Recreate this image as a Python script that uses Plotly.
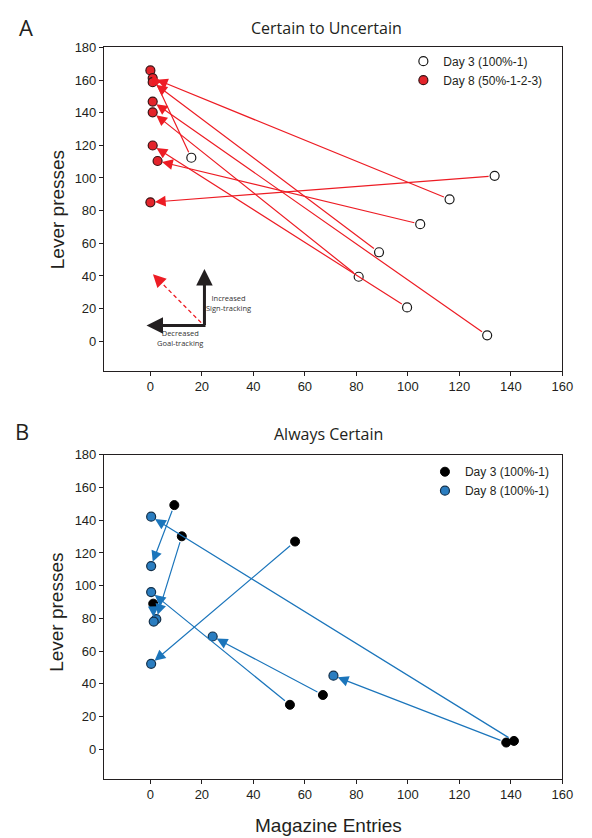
import plotly.graph_objects as go

# ---------------- data ----------------
# Panel A: Certain to Uncertain (each index = one subject, Day 3 -> Day 8)
A_day3_x = [15.9, 133.7, 116.2, 104.8, 88.8, 80.9, 99.7, 130.8]
A_day3_y = [112.4, 101.3, 86.9, 71.7, 54.5, 39.5, 20.7, 3.6]
A_day8_x = [0.0, 0.0, 0.9, 2.8, 0.9, 0.9, 0.9, 0.9]
A_day8_y = [165.9, 85.1, 161.2, 110.4, 158.7, 140.2, 119.9, 146.8]

# Panel B: Always Certain
B_day3_x = [9.3, 12.2, 1.1, 56.2, 54.2, 67.0, 138.2, 141.2]
B_day3_y = [149.3, 130.2, 89.0, 127.0, 27.1, 33.1, 4.0, 5.0]
B_day8_x = [0.3, 2.3, 1.3, 0.3, 0.3, 24.2, 71.1, 0.3]
B_day8_y = [112.0, 79.5, 78.0, 52.2, 96.1, 68.9, 44.9, 142.2]

x_ticks = [0, 20, 40, 60, 80, 100, 120, 140, 160]
y_ticks = [0, 20, 40, 60, 80, 100, 120, 140, 160, 180]

W, H = 592, 838
RED_LINE = '#ed1c24'
RED_FILL = '#e3242b'
BLUE_LINE = '#1b75bb'
BLUE_FILL = '#2a7dc0'
INK = '#231f20'
TICKFONT = dict(family='Liberation Sans, Arial, sans-serif', size=13, color=INK)
HUMANIST = 'Open Sans, Noto Sans, sans-serif'
ARIAL = 'Liberation Sans, Arial, sans-serif'


def px_x(p):
    return p / W


def px_y(p):
    return 1 - p / H


fig = go.Figure()

fig.add_trace(go.Scatter(x=A_day3_x, y=A_day3_y, mode='markers', name='Day 3 (100%-1)',
                         marker=dict(size=9, color='white', line=dict(color='#1a1a1a', width=1.2)),
                         xaxis='x', yaxis='y', legend='legend'))
fig.add_trace(go.Scatter(x=A_day8_x, y=A_day8_y, mode='markers', name='Day 8 (50%-1-2-3)',
                         marker=dict(size=9, color=RED_FILL, line=dict(color='#3a1214', width=1.2)),
                         xaxis='x', yaxis='y', legend='legend'))
fig.add_trace(go.Scatter(x=B_day3_x, y=B_day3_y, mode='markers', name='Day 3 (100%-1)',
                         marker=dict(size=9, color='black', line=dict(color='black', width=1)),
                         xaxis='x2', yaxis='y2', legend='legend2'))
fig.add_trace(go.Scatter(x=B_day8_x, y=B_day8_y, mode='markers', name='Day 8 (100%-1)',
                         marker=dict(size=9, color=BLUE_FILL, line=dict(color='#13304a', width=1.2)),
                         xaxis='x2', yaxis='y2', legend='legend2'))

# dashed red arrow of the inset key (panel A)
fig.add_trace(go.Scatter(x=[19.7, 3.8], y=[11.4, 36.6], mode='lines',
                         line=dict(color=RED_LINE, width=1.3, dash='4px,3px'),
                         xaxis='x', yaxis='y', showlegend=False, hoverinfo='skip'))


def add_arrows(x3, y3, x8, y8, xr, yr, color):
    for a, b, c, d in zip(x3, y3, x8, y8):
        fig.add_annotation(x=c, y=d, ax=a, ay=b, xref=xr, yref=yr, axref=xr, ayref=yr,
                           showarrow=True, arrowhead=2, arrowsize=1.8, arrowwidth=1.2,
                           arrowcolor=color, standoff=4.5, startstandoff=4.5, text='')


add_arrows(A_day3_x, A_day3_y, A_day8_x, A_day8_y, 'x', 'y', RED_LINE)
add_arrows(B_day3_x, B_day3_y, B_day8_x, B_day8_y, 'x2', 'y2', BLUE_LINE)

# inset key arrows
fig.add_annotation(x=21, y=44.3, ax=21, ay=9.0, xref='x', yref='y', axref='x', ayref='y',
                   showarrow=True, arrowhead=2, arrowsize=1.1, arrowwidth=3, arrowcolor=INK, text='')
fig.add_annotation(x=-1.5, y=9.7, ax=22, ay=9.7, xref='x', yref='y', axref='x', ayref='y',
                   showarrow=True, arrowhead=2, arrowsize=1.1, arrowwidth=3, arrowcolor=INK, text='')
fig.add_annotation(x=1.0, y=41.1, ax=3.8, ay=36.6, xref='x', yref='y', axref='x', ayref='y',
                   showarrow=True, arrowhead=2, arrowsize=2.0, arrowwidth=1.3, arrowcolor=RED_LINE, text='')
fig.add_annotation(x=30.3, y=23.5, xref='x', yref='y', showarrow=False,
                   text='Increased<br>Sign-tracking', align='center',
                   xanchor='center', yanchor='middle',
                   font=dict(family=HUMANIST, size=7.5, color='#333'))
fig.add_annotation(x=11.4, y=2.0, xref='x', yref='y', showarrow=False,
                   text='Decreased<br>Goal-tracking', align='center',
                   xanchor='center', yanchor='middle',
                   font=dict(family=HUMANIST, size=7.5, color='#333'))


def paper_text(x, y, text, size, family=HUMANIST, angle=0):
    fig.add_annotation(x=px_x(x), y=px_y(y), xref='paper', yref='paper', showarrow=False,
                       text=text, textangle=angle, xanchor='center', yanchor='middle',
                       font=dict(family=family, size=size, color=INK))


paper_text(333, 21, 'Certain to Uncertain', 16)
paper_text(335, 431, 'Always Certain', 16)
paper_text(26, 20, 'A', 22)
paper_text(22, 428, 'B', 22)
paper_text(58, 204, 'Lever presses', 19, ARIAL, -90)
paper_text(58, 610, 'Lever presses', 19, ARIAL, -90)
paper_text(335, 825, 'Magazine Entries', 19, ARIAL)

axis_common = dict(showline=True, mirror=True, linecolor=INK, linewidth=1.2,
                   ticks='outside', ticklen=4, tickwidth=1, tickcolor=INK,
                   showgrid=False, zeroline=False, tickfont=TICKFONT)

xdom = [px_x(106), px_x(573)]
fig.update_layout(
    width=W, height=H, autosize=False,
    margin=dict(l=0, r=0, t=0, b=0),
    paper_bgcolor='white', plot_bgcolor='white',
    xaxis=dict(domain=xdom, range=[-18, 160], tickvals=x_ticks, anchor='y', **axis_common),
    yaxis=dict(domain=[px_y(366.7), px_y(40.7)], range=[-18, 180], tickvals=y_ticks,
               anchor='x', **axis_common),
    xaxis2=dict(domain=xdom, range=[-18, 160], tickvals=x_ticks, anchor='y2', **axis_common),
    yaxis2=dict(domain=[px_y(778), px_y(451.7)], range=[-18, 180], tickvals=y_ticks,
                anchor='x2', **axis_common),
    legend=dict(x=px_x(411), y=px_y(40), xanchor='left', yanchor='top',
                bgcolor='rgba(0,0,0,0)', font=dict(family=ARIAL, size=12, color=INK),
                tracegroupgap=0),
    legend2=dict(x=px_x(433), y=px_y(454), xanchor='left', yanchor='top',
                 bgcolor='rgba(0,0,0,0)', font=dict(family=ARIAL, size=12, color=INK),
                 tracegroupgap=0),
)

fig.write_html('out.html', config={'displayModeBar': False},
               post_script="document.body.style.margin='0px';document.body.style.overflow='hidden';")
